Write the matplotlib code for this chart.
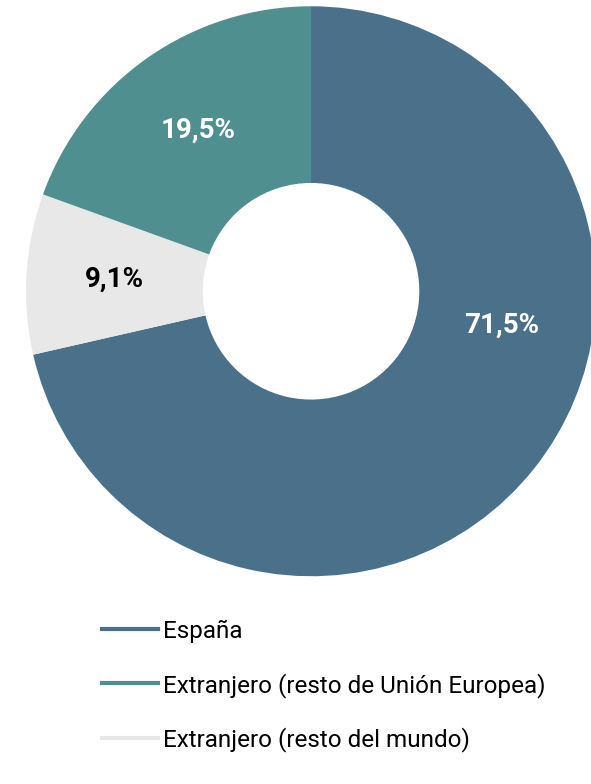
import numpy as np
import matplotlib.pyplot as plt
from matplotlib.lines import Line2D

categorias = ['España', 'Extranjero (resto de Unión Europea)', 'Extranjero (resto del mundo)']
valores = [71.5, 19.5, 9.1]
colores = ['#4b7089', '#4f8f8f', '#e8e8e8']
etiquetas_color = ['white', 'white', 'black']

# orden de dibujo en sentido horario desde arriba: España, resto del mundo, UE
orden = [0, 2, 1]

plt.rcParams['font.family'] = ['Roboto', 'DejaVu Sans']

fig = plt.figure(figsize=(5.91, 7.84), dpi=100)
ax = fig.add_axes([0.044, 0.265, 0.9645, 0.727])

wedges, textos = ax.pie([valores[i] for i in orden],
                        colors=[colores[i] for i in orden],
                        startangle=90, counterclock=False, radius=1,
                        labels=[('%.1f%%' % valores[i]).replace('.', ',') for i in orden],
                        labeldistance=0.69,
                        wedgeprops=dict(width=0.62, edgecolor='none'),
                        textprops=dict(fontsize=20, fontweight='bold', ha='center', va='center'))
for t, i in zip(textos, orden):
    t.set_color(etiquetas_color[i])
    t.set_ha('center')

# la etiqueta de España está desplazada hacia arriba, a la derecha del hueco
ang = np.deg2rad(-10)
textos[0].set_position((0.68 * np.cos(ang), 0.68 * np.sin(ang)))

ax.set_xlim(-1, 1)
ax.set_ylim(-1, 1)
ax.set_aspect('equal')

# leyenda con líneas
handles = [Line2D([0], [0], color=c, lw=3) for c in colores]
fig.legend(handles, categorias, loc='upper left', bbox_to_anchor=(0.152, 0.225),
           frameon=False, fontsize=17.5, handlelength=2.3, handletextpad=0.2,
           labelspacing=1.22, borderpad=0)

fig.savefig('out.png', dpi=100)
